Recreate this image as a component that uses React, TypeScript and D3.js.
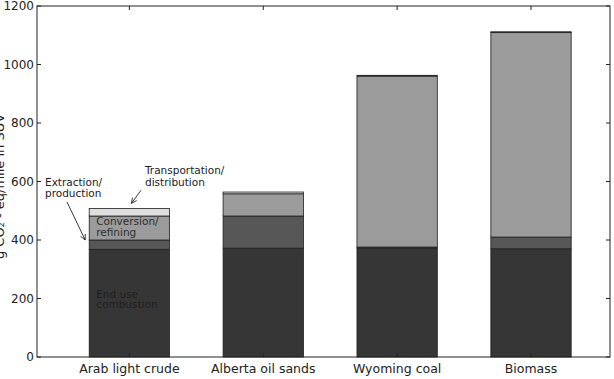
import React from "react";
import * as d3 from "d3";

const categories = ["Arab light crude", "Alberta oil sands", "Wyoming coal", "Biomass"];
const combustion = [368, 372, 372, 370];
const extraction = [32, 110, 4, 40];
const conversion = [82, 76, 584, 699];
const transport = [26, 6, 3, 3];
const yTicks = [0, 200, 400, 600, 800, 1000, 1200];

const layerKeys = ["combustion", "extraction", "conversion", "transport"];
const layerColors = ["#363636", "#575757", "#9b9b9b", "#dedede"];

const W = 614;
const H = 379;
const margin = { top: 6, right: 4, bottom: 22, left: 37 };
const font = "'DejaVu Sans', sans-serif";

const App: React.FC = () => {
  const rows = categories.map((c, i) => ({
    category: c,
    combustion: combustion[i],
    extraction: extraction[i],
    conversion: conversion[i],
    transport: transport[i],
  }));
  const series = d3.stack<any>().keys(layerKeys)(rows);

  const x = d3
    .scaleLinear()
    .domain([-0.69, categories.length - 1 + 0.59])
    .range([margin.left, W - margin.right]);
  const y = d3
    .scaleLinear()
    .domain([0, 1200])
    .range([H - margin.bottom, margin.top]);
  const barW = x(0.6) - x(0);

  const left = margin.left;
  const right = W - margin.right;
  const top = margin.top;
  const bottom = H - margin.bottom;

  // annotation anchors on the first bar
  const bar0 = x(0) - barW / 2;
  const arabTop = d3.sum([combustion[0], extraction[0], conversion[0], transport[0]]);

  const arrow = (x1: number, y1: number, x2: number, y2: number) => {
    const a = Math.atan2(y2 - y1, x2 - x1);
    const len = 6;
    const spread = 0.45;
    return (
      <g stroke="#222" strokeWidth={0.9} fill="none">
        <line x1={x1} y1={y1} x2={x2} y2={y2} />
        <line x1={x2} y1={y2} x2={x2 - len * Math.cos(a - spread)} y2={y2 - len * Math.sin(a - spread)} />
        <line x1={x2} y1={y2} x2={x2 - len * Math.cos(a + spread)} y2={y2 - len * Math.sin(a + spread)} />
      </g>
    );
  };

  return (
    <svg
      width={W}
      height={H}
      style={{ position: "absolute", left: 0, top: 0, background: "#fff" }}
      fontFamily={font}
    >
      {/* bars */}
      {series.map((s, li) => (
        <g key={s.key} fill={layerColors[li]} stroke="#1e1e1e" strokeWidth={0.8}>
          {s.map((d, i) => (
            <rect
              key={i}
              x={x(i) - barW / 2}
              y={y(d[1])}
              width={barW}
              height={y(d[0]) - y(d[1])}
            />
          ))}
        </g>
      ))}

      {/* frame */}
      <rect x={left} y={top} width={right - left} height={bottom - top} fill="none" stroke="#222" strokeWidth={1} />

      {/* y ticks */}
      {yTicks.map((t) => (
        <g key={t}>
          <line x1={left} x2={left + 4} y1={y(t)} y2={y(t)} stroke="#222" />
          <line x1={right} x2={right - 4} y1={y(t)} y2={y(t)} stroke="#222" />
          <text x={left - 3} y={y(t)} dy="0.35em" textAnchor="end" fontSize={12} fill="#222">
            {t}
          </text>
        </g>
      ))}

      {/* x ticks */}
      {categories.map((c, i) => (
        <g key={c}>
          <line x1={x(i)} x2={x(i)} y1={bottom} y2={bottom - 4} stroke="#222" />
          <line x1={x(i)} x2={x(i)} y1={top} y2={top + 4} stroke="#222" />
          <text x={x(i)} y={bottom + 16} textAnchor="middle" fontSize={12.5} fill="#222">
            {c}
          </text>
        </g>
      ))}

      {/* y label (cut off at the left edge) */}
      <text
        transform={`translate(4,${(y(0) + y(1200)) / 2 + 5}) rotate(-90)`}
        textAnchor="middle"
        fontSize={13}
        fill="#222"
      >
        g CO₂ - eq/mile in SUV
      </text>

      {/* labels inside first bar */}
      <g fontSize={10.5}>
        <text x={bar0 + 7} y={y(combustion[0] + extraction[0] + 51)} fill="#2e2e2e">
          Conversion/
        </text>
        <text x={bar0 + 7} y={y(combustion[0] + extraction[0] + 15)} fill="#2e2e2e">
          refining
        </text>
        <text x={bar0 + 7} y={y(203)} fill="#1f1f1f">
          End use
        </text>
        <text x={bar0 + 7} y={y(166)} fill="#1f1f1f">
          combustion
        </text>
      </g>

      {/* annotations */}
      <g fontSize={10.5} fill="#222">
        <text x={45} y={y(583)}>Extraction/</text>
        <text x={45} y={y(547)}>production</text>
        <text x={145} y={y(625)}>Transportation/</text>
        <text x={145} y={y(583)}>distribution</text>
      </g>
      {arrow(67, y(530), bar0 - 4, y(combustion[0] + extraction[0]))}
      {arrow(141, y(570), x(0) + 2, y(arabTop) - 5)}
    </svg>
  );
};

export default App;
